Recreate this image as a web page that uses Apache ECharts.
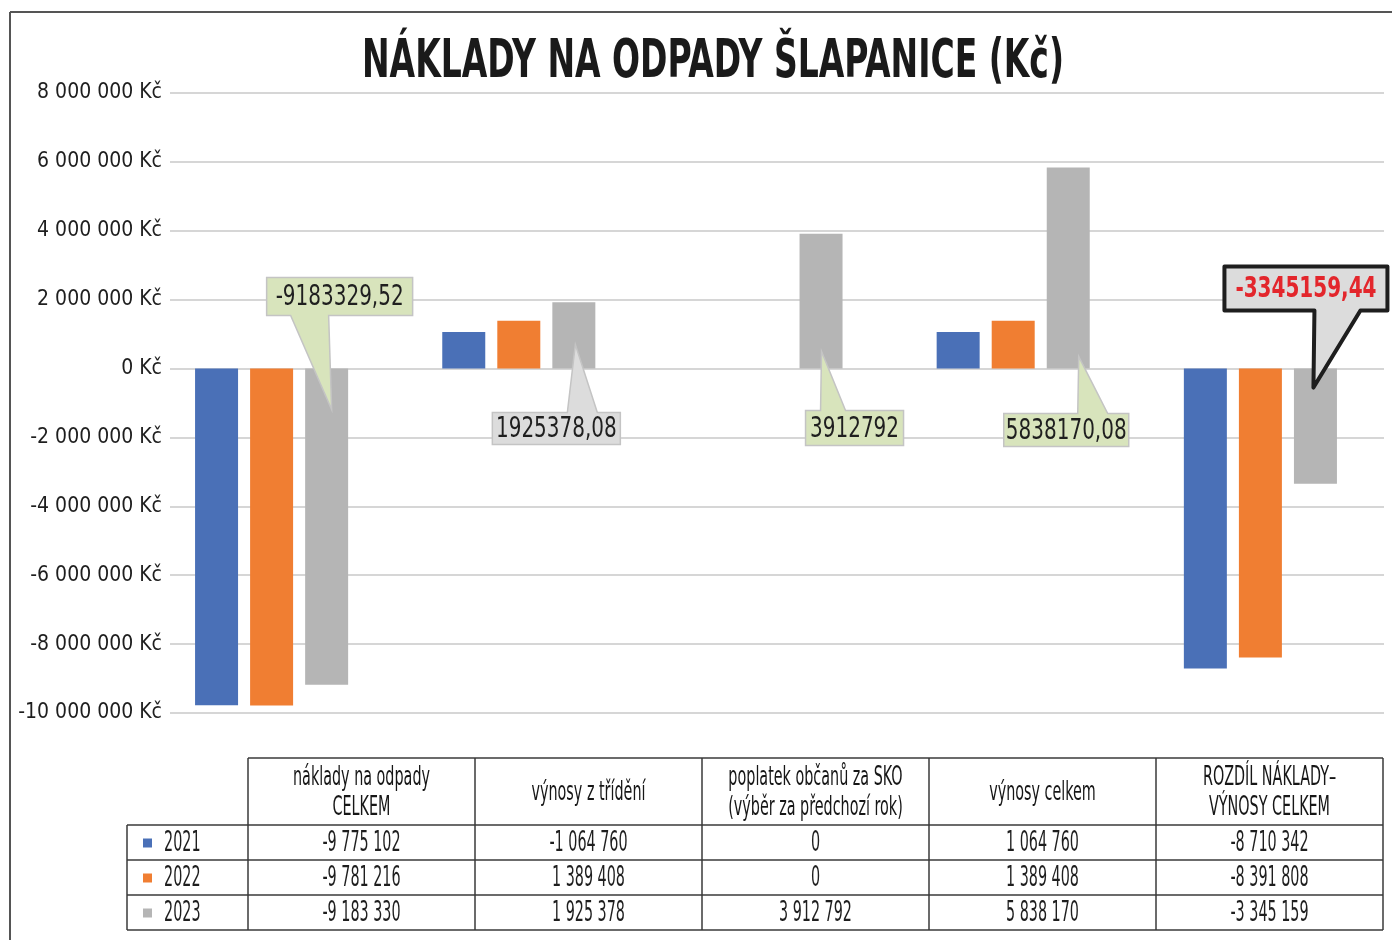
<!DOCTYPE html>
<html>
<head>
<meta charset="utf-8">
<title>Náklady na odpady Šlapanice</title>
<script src="https://cdn.jsdelivr.net/npm/echarts@6/dist/echarts.min.js"></script>
<style>
  html, body { margin: 0; padding: 0; background: #fff; }
  #chart { width: 1392px; height: 940px; }
</style>
</head>
<body>
<div id="chart"></div>
<script>
// data
var categories = ['náklady na odpady\nCELKEM', 'výnosy z třídění', 'poplatek občanů za SKO\n(výběr za předchozí rok)', 'výnosy celkem', 'ROZDÍL NÁKLADY–\nVÝNOSY CELKEM'];
var years = ['2021', '2022', '2023'];
var values2021 = [-9775102, 1064760, 0, 1064760, -8710342];
var values2022 = [-9781216, 1389408, 0, 1389408, -8391808];
var values2023 = [-9183329.52, 1925378.08, 3912792, 5838170.08, -3345159.44];
var table2021 = ['-9 775 102', '-1 064 760', '0', '1 064 760', '-8 710 342'];
var table2022 = ['-9 781 216', '1 389 408', '0', '1 389 408', '-8 391 808'];
var table2023 = ['-9 183 330', '1 925 378', '3 912 792', '5 838 170', '-3 345 159'];
var yMin = -10000000, yMax = 8000000, yStep = 2000000;
var title = 'NÁKLADY NA ODPADY ŠLAPANICE (Kč)';

var colors = ['#4a70b7', '#f07e32', '#b5b5b5'];

// pick a condensed font if one is installed
var ctx = document.createElement('canvas').getContext('2d');
function textWidth(t, font) { ctx.font = font; return ctx.measureText(t).width; }
function hasFont(name) {
  var s = 'abcdefghij ABCDEF 0123456789';
  return textWidth(s, '40px monospace') !== textWidth(s, '40px "' + name + '", monospace');
}
var narrow = ['Liberation Sans Narrow', 'DejaVu Sans Condensed', 'Roboto Condensed'].filter(hasFont)[0];
var FONT = narrow ? '"' + narrow + '", Roboto, sans-serif' : 'Roboto, sans-serif';

// squeeze factors so the texts keep the narrow look of the original
function squeeze(sample, size, target, weight) {
  return target / textWidth(sample, (weight || 'normal') + ' ' + size + 'px ' + FONT);
}
var sqTitle = squeeze(title, 53, 702, 'bold');
var sqCallout = squeeze('-9183329,52', 29, 128);
var sqTable = squeeze('1 064 760', 28, 73);
var sqHead = squeeze('výnosy z třídění', 27, 114);
var axisFontSize = Math.round(141 * 100 / textWidth('-10 000 000 Kč', '100px ' + FONT));

function fmtAxis(v) {
  var s = String(Math.abs(v)).replace(/\B(?=(\d{3})+(?!\d))/g, ' ');
  return (v < 0 ? '-' : '') + s + ' Kč';
}
function fmtCallout(v) { return String(v).replace('.', ','); }

var chart = echarts.init(document.getElementById('chart'));

var option = {
  animation: false,
  grid: { left: 148, right: 8, top: 93, bottom: 227 },
  xAxis: {
    type: 'category',
    data: categories,
    axisLine: { show: false },
    axisTick: { show: false },
    axisLabel: { show: false }
  },
  yAxis: {
    type: 'value',
    min: yMin,
    max: yMax,
    interval: yStep,
    axisLine: { show: false },
    axisTick: { show: false },
    splitLine: { lineStyle: { color: '#c8c8c8', width: 1.5 } },
    axisLabel: {
      formatter: fmtAxis,
      margin: -22,
      padding: [0, 8, 0, 0],
      backgroundColor: '#fff',
      color: '#1e1e1e',
      fontFamily: FONT,
      fontSize: axisFontSize
    }
  },
  series: years.map(function (y, i) {
    return {
      name: y,
      type: 'bar',
      data: [values2021, values2022, values2023][i],
      barWidth: 43,
      barGap: '28%',
      itemStyle: { color: colors[i] }
    };
  })
};
chart.setOption(option);

// callouts for the 2023 values, placed relative to the gray bars
var callouts = [
  { cat: 0, dx: 5, dy: 41, box: [-65, -132, 146, 38], base: [-41, -3], fill: '#d8e4bc', stroke: '#c4c4c4', lw: 1.5, color: '#1f1f1f', bold: false },
  { cat: 1, dx: 1.5, dy: -24, box: [-83, 68, 128, 32], base: [-8, 22], fill: '#dcdcdc', stroke: '#c4c4c4', lw: 1.5, color: '#1f1f1f', bold: false },
  { cat: 2, dx: 0.5, dy: -17, box: [-16, 59, 98, 35], base: [-1, 24], fill: '#d8e4bc', stroke: '#c4c4c4', lw: 1.5, color: '#1f1f1f', bold: false },
  { cat: 3, dx: 10.5, dy: -12, box: [-75, 57, 125, 33], base: [-1, 29], fill: '#d8e4bc', stroke: '#c4c4c4', lw: 1.5, color: '#1f1f1f', bold: false },
  { cat: 4, dx: -2, dy: 19, box: [-89, -121, 163, 44], base: [1, 47], fill: '#dcdcdc', stroke: '#1e1e1e', lw: 4, color: '#e3262c', bold: true }
];

var barData = chart.getModel().getSeriesByIndex(2).getData();
var g = [];

callouts.forEach(function (c) {
  var lay = barData.getItemLayout(c.cat);
  var tx = lay.x + lay.width / 2 + c.dx, ty = lay.y + c.dy;
  var L = tx + c.box[0], T = ty + c.box[1], R = L + c.box[2], B = T + c.box[3];
  var b1 = tx + c.base[0], b2 = tx + c.base[1];
  var pts = c.box[1] < 0
    ? [[L, T], [R, T], [R, B], [b2, B], [tx, ty], [b1, B], [L, B]]
    : [[L, T], [b1, T], [tx, ty], [b2, T], [R, T], [R, B], [L, B]];
  g.push({
    type: 'polygon', z: 20,
    shape: { points: pts },
    style: { fill: c.fill, stroke: c.stroke, lineWidth: c.lw, lineJoin: c.bold ? 'round' : 'miter' }
  });
  g.push({
    type: 'text', z: 21,
    x: (L + R) / 2, y: (T + B) / 2 + 1, scaleX: sqCallout,
    style: {
      text: fmtCallout(values2023[c.cat]),
      fill: c.color, fontFamily: FONT, fontSize: 29, fontWeight: c.bold ? 'bold' : 'normal',
      align: 'center', verticalAlign: 'middle'
    }
  });
});

// title
g.push({
  type: 'text', z: 20, x: 713, y: 63, scaleX: sqTitle,
  style: { text: title, fill: '#1a1a1a', fontFamily: FONT, fontSize: 53, fontWeight: 'bold', align: 'center', verticalAlign: 'middle' }
});

// outer frame
g.push({ type: 'line', z: 5, shape: { x1: 10, y1: 12, x2: 1392, y2: 12 }, style: { stroke: '#555', lineWidth: 2 } });
g.push({ type: 'line', z: 5, shape: { x1: 10, y1: 12, x2: 10, y2: 940 }, style: { stroke: '#555', lineWidth: 2 } });

// data table
var colX = [127, 248, 475, 702, 929, 1156, 1383];
var rowY = [758, 825, 860, 895, 930];
var tableLine = { stroke: '#3a3a3a', lineWidth: 1.5 };
g.push({ type: 'line', z: 5, shape: { x1: colX[1], y1: rowY[0], x2: colX[6], y2: rowY[0] }, style: tableLine });
for (var r = 1; r < rowY.length; r++) {
  g.push({ type: 'line', z: 5, shape: { x1: colX[0], y1: rowY[r], x2: colX[6], y2: rowY[r] }, style: tableLine });
}
g.push({ type: 'line', z: 5, shape: { x1: colX[0], y1: rowY[1], x2: colX[0], y2: rowY[4] }, style: tableLine });
for (var k = 1; k < colX.length; k++) {
  g.push({ type: 'line', z: 5, shape: { x1: colX[k], y1: rowY[0], x2: colX[k], y2: rowY[4] }, style: tableLine });
}

categories.forEach(function (name, i) {
  g.push({
    type: 'text', z: 6,
    x: (colX[i + 1] + colX[i + 2]) / 2, y: (rowY[0] + rowY[1]) / 2 + 1, scaleX: sqHead,
    style: { text: name, fill: '#161616', fontFamily: FONT, fontSize: 27, lineHeight: 30, align: 'center', verticalAlign: 'middle' }
  });
});

[table2021, table2022, table2023].forEach(function (row, r) {
  var cy = (rowY[r + 1] + rowY[r + 2]) / 2 + 1;
  g.push({ type: 'rect', z: 6, shape: { x: 143, y: cy - 5, width: 9, height: 9 }, style: { fill: colors[r] } });
  g.push({
    type: 'text', z: 6, x: 164, y: cy, scaleX: sqTable,
    style: { text: years[r], fill: '#1e1e1e', fontFamily: FONT, fontSize: 28, align: 'left', verticalAlign: 'middle' }
  });
  row.forEach(function (txt, i) {
    g.push({
      type: 'text', z: 6,
      x: (colX[i + 1] + colX[i + 2]) / 2, y: cy, scaleX: sqTable,
      style: { text: txt, fill: '#1e1e1e', fontFamily: FONT, fontSize: 28, align: 'center', verticalAlign: 'middle' }
    });
  });
});

chart.setOption({ graphic: g });
</script>
</body>
</html>
